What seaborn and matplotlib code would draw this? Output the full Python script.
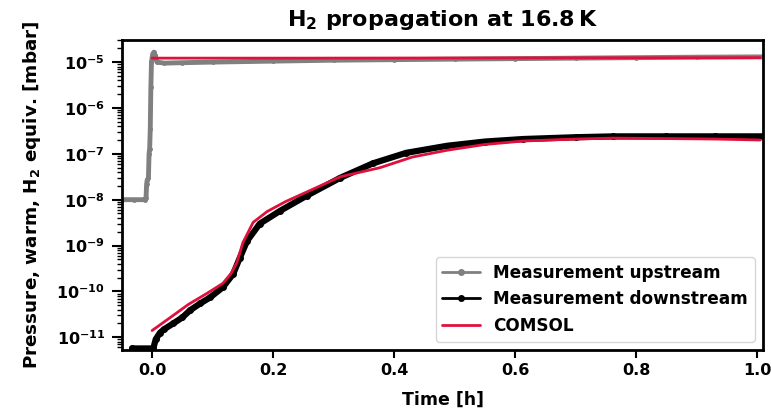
import numpy as np
import pandas as pd
import matplotlib
matplotlib.use("Agg")
import matplotlib.pyplot as plt
from matplotlib.lines import Line2D
import seaborn as sns

# measurement upstream (gray)
t_up = [-0.050, -0.030, -0.012, -0.010, -0.009, -0.008, -0.006, -0.005, -0.004,
        -0.003, -0.002, -0.001, 0.001, 0.003, 0.005, 0.008, 0.02, 0.05, 0.1,
        0.2, 0.3, 0.4, 0.5, 0.6, 0.7, 0.8, 0.9, 1.01]
p_up = [1.0e-8, 1.0e-8, 1.0e-8, 1.1e-8, 2.2e-8, 2.7e-8, 3.0e-8, 1.0e-7, 1.3e-7,
        3.5e-7, 2.8e-6, 1.0e-5, 1.5e-5, 1.65e-5, 1.4e-5, 1.0e-5, 0.95e-5, 0.97e-5, 1.0e-5,
        1.05e-5, 1.1e-5, 1.13e-5, 1.16e-5, 1.19e-5, 1.22e-5, 1.25e-5, 1.28e-5, 1.3e-5]

# measurement downstream (black)
t_down = [-0.033, 0.002, 0.006, 0.013, 0.02, 0.035, 0.05, 0.063, 0.08, 0.096,
          0.117, 0.134, 0.145, 0.157, 0.178, 0.212, 0.256, 0.311, 0.365, 0.42,
          0.488, 0.55, 0.613, 0.7, 0.762, 0.85, 0.93, 1.01]
p_down = [5.7e-12, 5.7e-12, 9.0e-12, 1.25e-11, 1.5e-11, 2.0e-11, 2.7e-11, 3.9e-11, 5.5e-11, 7.4e-11,
          1.23e-10, 2.4e-10, 5.4e-10, 1.26e-9, 3.0e-9, 5.75e-9, 1.23e-8, 3.0e-8, 6.2e-8, 1.05e-7,
          1.5e-7, 1.85e-7, 2.1e-7, 2.3e-7, 2.4e-7, 2.4e-7, 2.4e-7, 2.4e-7]

# COMSOL simulation (red)
t_sim_up = [0.0, 0.25, 0.5, 0.75, 1.005]
p_sim_up = [1.22e-5, 1.22e-5, 1.23e-5, 1.24e-5, 1.25e-5]
t_sim = [0.0, 0.035, 0.06, 0.091, 0.117, 0.130, 0.140, 0.150, 0.167, 0.190, 0.22,
         0.256, 0.311, 0.377, 0.43, 0.488, 0.55, 0.613, 0.7, 0.762, 0.85, 0.93, 1.005]
p_sim = [1.4e-11, 3.0e-11, 5.2e-11, 9.1e-11, 1.5e-10, 2.4e-10, 4.2e-10, 1.15e-9, 3.2e-9, 5.5e-9, 9.0e-9,
         1.48e-8, 3.16e-8, 5.0e-8, 8.5e-8, 1.2e-7, 1.6e-7, 1.9e-7, 2.1e-7, 2.2e-7, 2.15e-7, 2.1e-7, 2.0e-7]

sns.set_style("ticks")
plt.rcParams["font.family"] = ["DejaVu Sans"]
plt.rcParams["font.weight"] = "bold"
plt.rcParams["axes.labelweight"] = "bold"
plt.rcParams["axes.titleweight"] = "bold"
plt.rcParams["mathtext.default"] = "bf"
plt.rcParams["text.color"] = "black"
plt.rcParams["axes.labelcolor"] = "black"
plt.rcParams["xtick.color"] = "black"
plt.rcParams["ytick.color"] = "black"

gray = "#808080"
red = "#e0103c"

fig, ax = plt.subplots(figsize=(7.71, 4.09), dpi=100)

sns.lineplot(x=t_up, y=p_up, ax=ax, color=gray, linewidth=3.5, marker="o",
             markersize=3.5, markeredgewidth=0, estimator=None, sort=False)
sns.lineplot(x=t_down, y=p_down, ax=ax, color="black", linewidth=4.5, marker="o",
             markersize=5, markeredgewidth=0, estimator=None, sort=False)
sns.lineplot(x=t_sim_up, y=p_sim_up, ax=ax, color=red, linewidth=2, estimator=None)
sns.lineplot(x=t_sim, y=p_sim, ax=ax, color=red, linewidth=2, estimator=None)

ax.set_yscale("log")
ax.set_xlim(-0.05, 1.01)
ax.set_ylim(10 ** -11.28, 10 ** -4.52)
ax.set_xticks([0.0, 0.2, 0.4, 0.6, 0.8, 1.0])
ax.set_xlabel("Time [h]", fontsize=12.5, labelpad=9)
ax.set_ylabel("Pressure, warm, H$_2$ equiv. [mbar]", fontsize=13.2)
ax.yaxis.set_label_coords(-0.123, 0.5)
ax.set_title("H$_2$ propagation at 16.8$\\,$K", fontsize=16, pad=10)
ax.tick_params(axis="x", labelsize=11.5, width=1.5, length=6)
ax.tick_params(axis="y", which="major", labelsize=11.5, width=1.5, length=7, pad=5)
ax.tick_params(axis="y", which="minor", width=1, length=3.5)
for s in ax.spines.values():
    s.set_visible(True)
    s.set_linewidth(2)
    s.set_color("black")

handles = [
    Line2D([], [], color=gray, lw=2, marker="o", ms=4),
    Line2D([], [], color="black", lw=2, marker="o", ms=4),
    Line2D([], [], color=red, lw=2),
]
labels = ["Measurement upstream", "Measurement downstream", "COMSOL"]
leg = ax.legend(handles, labels, loc="lower right", frameon=True, handlelength=2.2,
                prop={"weight": "bold", "size": 12.2})

fig.subplots_adjust(left=0.158, right=0.99, bottom=0.144, top=0.902)
fig.savefig("out.png", dpi=100)
